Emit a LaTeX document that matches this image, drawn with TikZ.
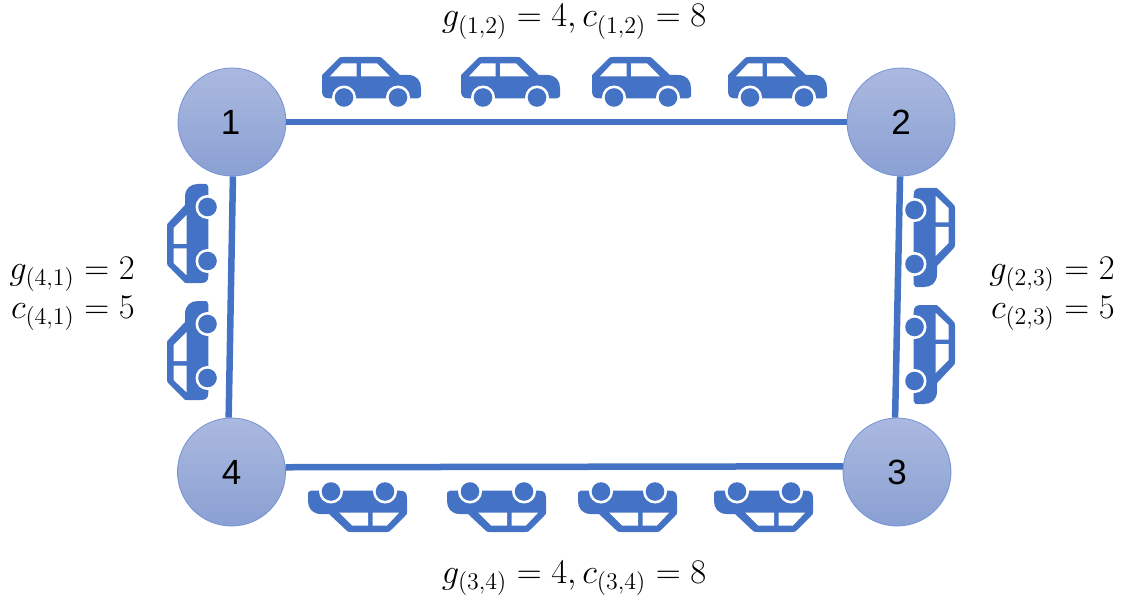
\documentclass[tikz,border=0pt]{standalone}
\usepackage{fontspec}
\usepackage{graphicx}
\newfontfamily\arialf{Liberation Sans}
\newcommand{\mylab}[1]{\scalebox{2.0}{\LARGE$#1$}}
\definecolor{carblue}{HTML}{4472C4}
\definecolor{topc}{HTML}{ABB9DF}
\definecolor{botc}{HTML}{8AA0D3}
\definecolor{edgec}{HTML}{7392D3}
\tikzset{
  city/.style={circle,minimum size=108pt,inner sep=0pt,draw=edgec,line width=0.8pt,top color=topc,bottom color=botc,font=\arialf\fontsize{35}{35}\selectfont,text=black},
  road/.style={draw=carblue,line width=6.5pt},
  lab/.style={inner sep=0pt,text=black},
  car/.pic={
    \fill[carblue] (7,8.7) .. controls (2,8.7) and (0,11) .. (0,16) -- (0,30) .. controls (0,32) .. (2,34) -- (15,47) .. controls (18,50) .. (21,50) -- (55,50) .. controls (59,50) .. (62,47) -- (78,32) -- (86,32) .. controls (95,32) and (99,26) .. (99,19) -- (99,12) .. controls (99,10) .. (96,8.7) -- cycle;
    \fill[white] (7.8,30.5) -- (20,43.5) -- (34.5,43.5) -- (34.5,30.5) -- cycle;
    \fill[white] (39,43.5) -- (55,43.5) -- (68,30.5) -- (39,30.5) -- cycle;
    \fill[white] (22,9.5) circle (12);
    \fill[white] (76,9.5) circle (12);
    \fill[carblue] (22,9.5) circle (9.3);
    \fill[carblue] (76,9.5) circle (9.3);
  }
}
\begin{document}
\begin{tikzpicture}[x=1pt,y=1pt]
\useasboundingbox (0,0) rectangle (1123,595);
% nodes (y = 595 - pixel y)
\node[city] (n1) at (232,473) {\hspace{-3pt}1};
\node[city] (n2) at (901,473) {2};
\node[city] (n3) at (897,123) {3};
\node[city] (n4) at (231.5,123) {4};
% roads
\draw[road] (n1.east) -- (n2.west);
\draw[road] (n2.-91) -- (n3.92);
\draw[road] (n3.174.7) -- (n4.5.3);
\draw[road] (n4.93) -- (n1.-89);
% cars top row
\pic at (322,488) {car};
\pic at (461,488) {car};
\pic at (592,488) {car};
\pic at (728,488) {car};
% cars bottom row
\pic[rotate=180] at (407,113) {car};
\pic[rotate=180] at (546,113) {car};
\pic[rotate=180] at (677,113) {car};
\pic[rotate=180] at (813,113) {car};
% cars left column
\pic[rotate=90] at (217,312) {car};
\pic[rotate=90] at (217,195) {car};
% cars right column
\pic[rotate=-90] at (905,407) {car};
\pic[rotate=-90] at (905,290) {car};
% labels
\node[lab,anchor=base] (ltop) at (574,568) {\mylab{g_{(1,2)}=4,c_{(1,2)}=8}};
\node[lab,anchor=base] (lbot) at (574,12) {\mylab{g_{(3,4)}=4,c_{(3,4)}=8}};
\node[lab,anchor=base east] (lg41) at (135,316) {\mylab{g_{(4,1)}=2}};
\node[lab,anchor=base east] (lc41) at (135,277) {\mylab{c_{(4,1)}=5}};
\node[lab,anchor=base east] (lg23) at (1115,316) {\mylab{g_{(2,3)}=2}};
\node[lab,anchor=base east] (lc23) at (1115,277) {\mylab{c_{(2,3)}=5}};
\end{tikzpicture}
\end{document}
